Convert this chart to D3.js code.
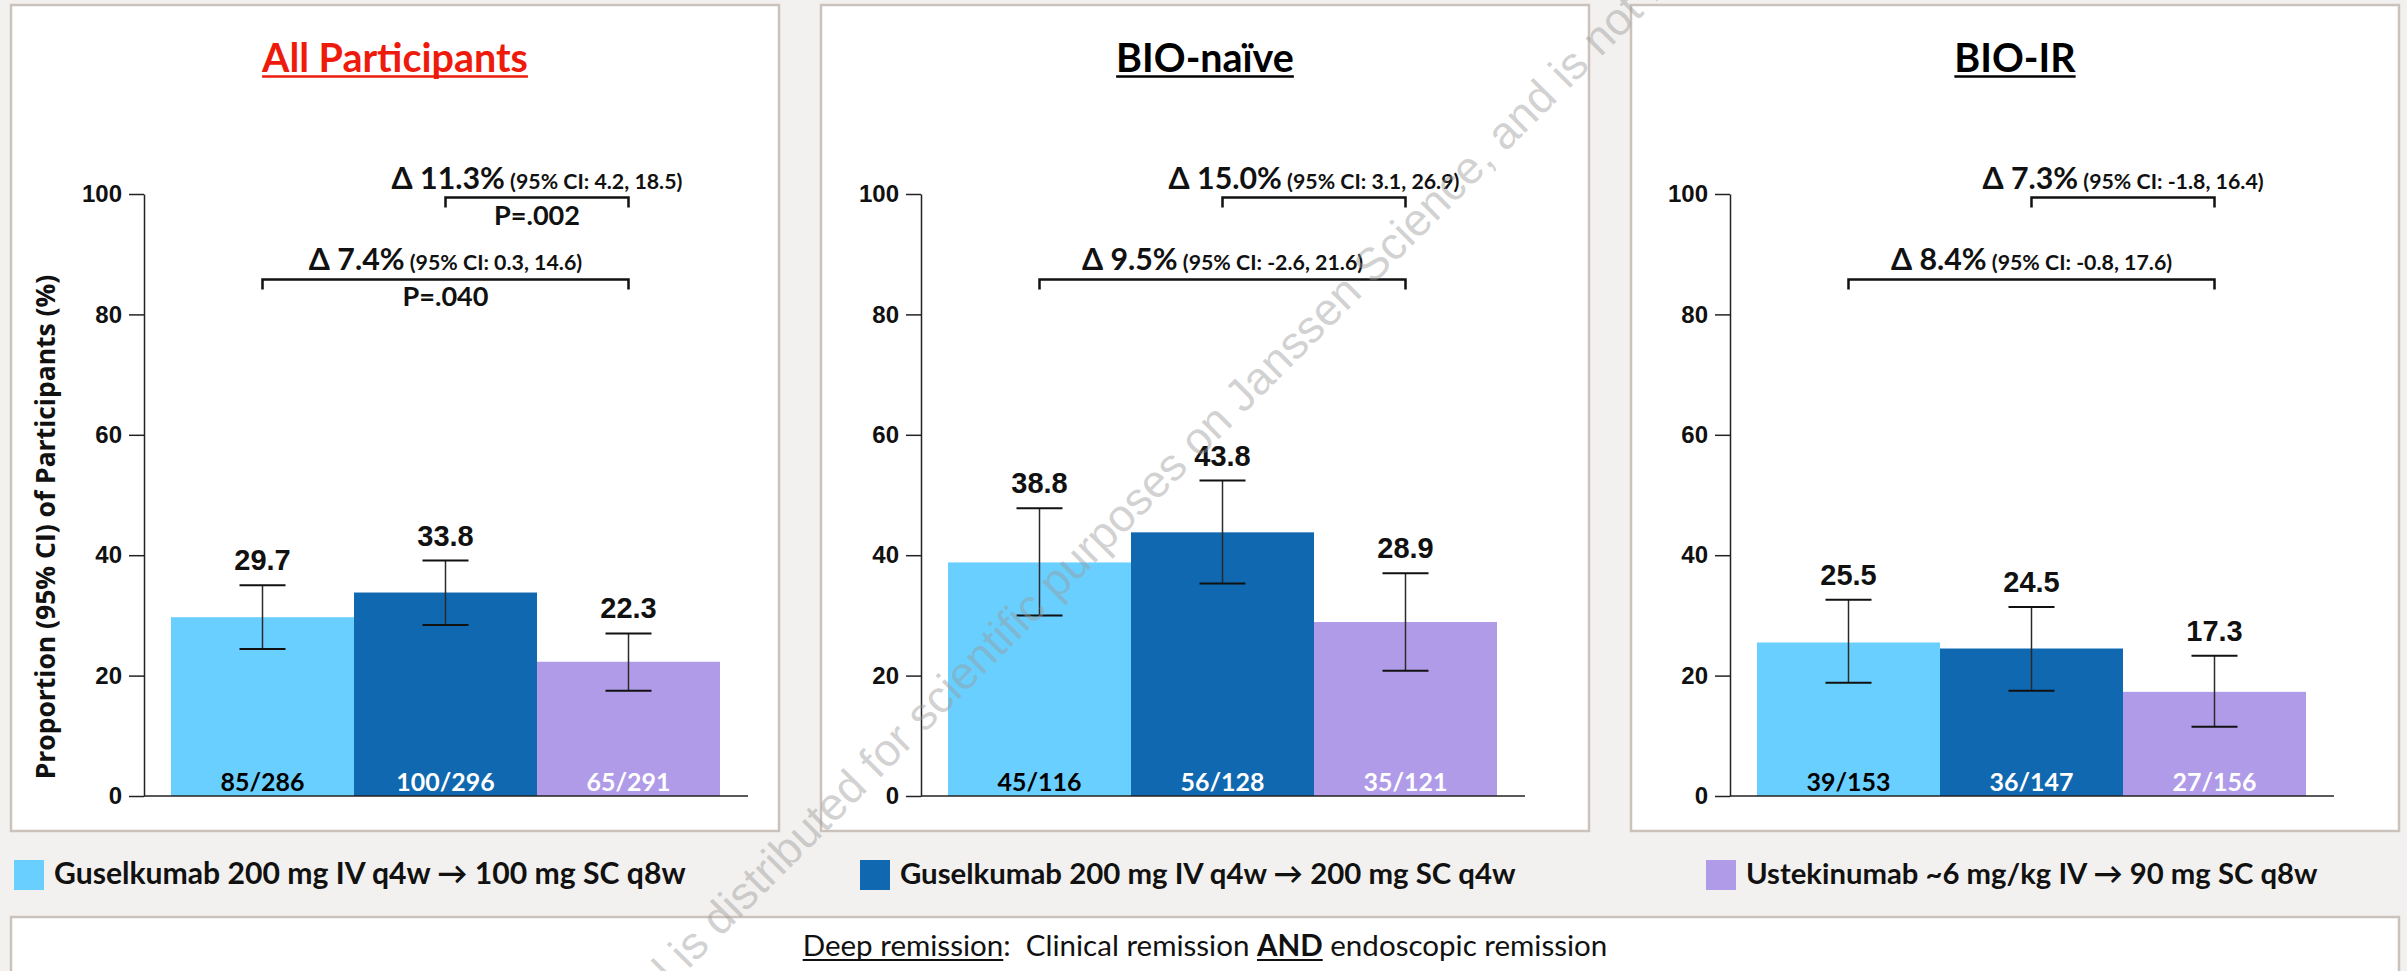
<!DOCTYPE html>
<html>
<head>
<meta charset="utf-8">
<script src="https://cdn.jsdelivr.net/npm/d3@7"></script>
<style>
  html, body { margin: 0; padding: 0; background: #f2f1ef; }
  svg { display: block; }
  text { white-space: pre; }
</style>
</head>
<body>
<svg id="chart" width="2407" height="971"></svg>
<script>
// ---- Data ----
const panelTitles = ["All Participants", "BIO-naïve", "BIO-IR"];
const treatments = [
  "Guselkumab 200 mg IV q4w \u2192 100 mg SC q8w",
  "Guselkumab 200 mg IV q4w \u2192 200 mg SC q4w",
  "Ustekinumab ~6 mg/kg IV \u2192 90 mg SC q8w"
];
const proportions = [[29.7, 33.8, 22.3], [38.8, 43.8, 28.9], [25.5, 24.5, 17.3]];
const ciLower     = [[24.4, 28.4, 17.5], [30.0, 35.3, 20.8], [18.8, 17.5, 11.5]];
const ciUpper     = [[35.0, 39.1, 27.0], [47.8, 52.4, 37.0], [32.6, 31.4, 23.3]];
const responders  = [["85/286", "100/296", "65/291"], ["45/116", "56/128", "35/121"], ["39/153", "36/147", "27/156"]];
const comparisonPairs = [[0, 2], [1, 2]];
const deltaValues = [["7.4%", "11.3%"], ["9.5%", "15.0%"], ["8.4%", "7.3%"]];
const deltaCIs    = [["0.3, 14.6", "4.2, 18.5"], ["-2.6, 21.6", "3.1, 26.9"], ["-0.8, 17.6", "-1.8, 16.4"]];
const pValues     = [["P=.040", "P=.002"], ["", ""], ["", ""]];
const yTicks = [0, 20, 40, 60, 80, 100];
const yAxisTitle = "Proportion (95% CI) of Participants (%)";
const footnoteParts = [
  { text: "Deep remission", weight: 400, underline: true },
  { text: ":  Clinical remission ", weight: 400, underline: false },
  { text: "AND", weight: 700, underline: true },
  { text: " endoscopic remission", weight: 400, underline: false }
];
const watermarkText = "This material is distributed for scientific purposes on Janssen Science, and is not for promotional use";

// ---- Styles / layout ----
const barColors = ["#69cfff", "#1068b0", "#b09be9"];
const countColors = ["#000000", "#ffffff", "#ffffff"];
const titleColors = ["#ee1b0c", "#000000", "#000000"];
const CAL = "Lato, 'DejaVu Sans', sans-serif";
const ARIAL = "'Liberation Sans', Arial, sans-serif";

const W = 2407, H = 971;
const panelLeft = [11, 821, 1631], panelTop = 5, panelW = 768, panelH = 826;
const axisX = [144, 921, 1730];
const bracketLevels = [85.8, 99.4];
const legendX = [14, 860, 1706];
const legendWidths = [632, 616, 572];

const svg = d3.select("#chart");
svg.append("rect").attr("width", W).attr("height", H).attr("fill", "#f2f1ef");

const y = d3.scaleLinear().domain([0, 100]).range([796, 194]);

function rescale(node, k) {
  [node, ...node.querySelectorAll("tspan")].forEach(n => {
    const fs = n.getAttribute("font-size");
    if (fs) n.setAttribute("font-size", parseFloat(fs) * k);
  });
}
function fitAll(sel, refNode, target) {
  const k = target / refNode.getComputedTextLength();
  sel.each(function () { rescale(this, k); });
}

const titles = [], countLabels = [], bracketLabels = [], pLabels = [];

panelTitles.forEach((title, p) => {
  const g = svg.append("g");
  g.append("rect")
    .attr("x", panelLeft[p]).attr("y", panelTop)
    .attr("width", panelW).attr("height", panelH)
    .attr("fill", "#ffffff").attr("stroke", "#cbc3bb").attr("stroke-width", 2.5);

  titles.push(g.append("text")
    .attr("x", panelLeft[p] + panelW / 2).attr("y", 72)
    .attr("text-anchor", "middle")
    .attr("font-family", CAL).attr("font-weight", 700).attr("font-size", 40)
    .attr("fill", titleColors[p])
    .text(title).node());

  const x = d3.scaleBand().domain([0, 1, 2]).range([axisX[p] + 27, axisX[p] + 576]).padding(0);
  const bw = x.bandwidth();
  const idx = [0, 1, 2];

  g.selectAll("rect.bar").data(idx).enter().append("rect")
    .attr("class", "bar")
    .attr("x", i => x(i)).attr("width", bw)
    .attr("y", i => y(proportions[p][i]))
    .attr("height", i => y(0) - y(proportions[p][i]))
    .attr("fill", i => barColors[i]);

  g.selectAll("text.count").data(idx).enter().append("text")
    .attr("class", "count")
    .attr("x", i => x(i) + bw / 2).attr("y", 791)
    .attr("text-anchor", "middle")
    .attr("font-family", CAL).attr("font-weight", 700).attr("font-size", 28)
    .attr("fill", i => countColors[i])
    .text(i => responders[p][i])
    .each(function () { countLabels.push(this); });

  // error bars
  const eb = g.selectAll("g.err").data(idx).enter().append("g").attr("class", "err");
  eb.append("line")
    .attr("x1", i => x(i) + bw / 2).attr("x2", i => x(i) + bw / 2)
    .attr("y1", i => y(ciLower[p][i])).attr("y2", i => y(ciUpper[p][i]))
    .attr("stroke", "#2a2a2a").attr("stroke-width", 1.5);
  [ciLower, ciUpper].forEach(arr => {
    eb.append("line")
      .attr("x1", i => x(i) + bw / 2 - 23).attr("x2", i => x(i) + bw / 2 + 23)
      .attr("y1", i => y(arr[p][i])).attr("y2", i => y(arr[p][i]))
      .attr("stroke", "#111").attr("stroke-width", 2);
  });

  g.selectAll("text.val").data(idx).enter().append("text")
    .attr("class", "val")
    .attr("x", i => x(i) + bw / 2).attr("y", i => y(ciUpper[p][i]) - 15)
    .attr("text-anchor", "middle")
    .attr("font-family", ARIAL).attr("font-weight", 700).attr("font-size", 29)
    .attr("fill", "#111")
    .text(i => proportions[p][i].toFixed(1));

  // axis
  const ax = g.append("g").attr("transform", `translate(${axisX[p]},0)`)
    .call(d3.axisLeft(y).tickValues(yTicks).tickSize(15).tickSizeOuter(0).tickPadding(7));
  ax.select(".domain").attr("stroke", "#222").attr("stroke-width", 1.5);
  ax.selectAll(".tick line").attr("stroke", "#222").attr("stroke-width", 1.5);
  ax.selectAll(".tick text")
    .attr("font-family", ARIAL).attr("font-weight", 700).attr("font-size", 24).attr("fill", "#111");
  g.append("line")
    .attr("x1", axisX[p]).attr("x2", axisX[p] + 604)
    .attr("y1", y(0)).attr("y2", y(0))
    .attr("stroke", "#222").attr("stroke-width", 1.5);

  // comparison brackets
  comparisonPairs.forEach((pair, c) => {
    const x1 = x(pair[0]) + bw / 2, x2 = x(pair[1]) + bw / 2;
    const yy = y(bracketLevels[c]);
    g.append("path")
      .attr("d", `M${x1},${yy + 10}V${yy}H${x2}V${yy + 10}`)
      .attr("fill", "none").attr("stroke", "#111").attr("stroke-width", 2.5);
    const t = g.append("text")
      .attr("x", (x1 + x2) / 2).attr("y", yy - 9)
      .attr("text-anchor", "middle")
      .attr("font-family", CAL).attr("font-weight", 700).attr("fill", "#111");
    t.append("tspan").attr("font-size", 27).text("\u0394 " + deltaValues[p][c]);
    t.append("tspan").attr("font-size", 19).text(" (95% CI: " + deltaCIs[p][c] + ")");
    bracketLabels.push(t.node());
    if (pValues[p][c]) {
      pLabels.push(g.append("text")
        .attr("x", (x1 + x2) / 2).attr("y", yy + 27)
        .attr("text-anchor", "middle")
        .attr("font-family", CAL).attr("font-weight", 700).attr("font-size", 27)
        .attr("fill", "#111")
        .text(pValues[p][c]).node());
    }
  });
});

// y-axis title (first panel)
const yTitle = svg.append("text")
  .attr("transform", "translate(55,527) rotate(-90)")
  .attr("text-anchor", "middle")
  .attr("font-family", "'Open Sans', 'DejaVu Sans', sans-serif").attr("font-weight", 700).attr("font-size", 24)
  .attr("fill", "#111")
  .text(yAxisTitle);

// legend
const legendTexts = [];
treatments.forEach((name, i) => {
  svg.append("rect").attr("x", legendX[i]).attr("y", 860).attr("width", 30).attr("height", 30).attr("fill", barColors[i]);
  legendTexts.push(svg.append("text")
    .attr("x", legendX[i] + 40).attr("y", 884)
    .attr("font-family", CAL).attr("font-weight", 700).attr("font-size", 29)
    .attr("fill", "#111").text(name).node());
});

// footnote box
svg.append("rect").attr("x", 11).attr("y", 917).attr("width", 2388).attr("height", 100)
  .attr("fill", "#ffffff").attr("stroke", "#cbc3bb").attr("stroke-width", 2.5);
const foot = svg.append("text")
  .attr("x", 1205).attr("y", 956).attr("text-anchor", "middle")
  .attr("font-family", CAL).attr("font-size", 27).attr("fill", "#111");
footnoteParts.forEach(part => {
  foot.append("tspan").attr("font-weight", part.weight).attr("font-size", 27).text(part.text);
});

// ---- size text to the layout ----
fitAll(d3.selectAll(titles), titles[0], 266);
fitAll(d3.selectAll(countLabels), countLabels[0], 84);
fitAll(d3.selectAll(bracketLabels), bracketLabels[1], 291);
fitAll(d3.selectAll(pLabels), pLabels[0], 86);
fitAll(yTitle, yTitle.node(), 505);
legendTexts.forEach((node, i) => fitAll(d3.select(node), node, legendWidths[i]));
fitAll(foot, foot.node(), 805);

// underlines
function underline(textNode, from, to, dy, width, color) {
  const a = textNode.getStartPositionOfChar(from);
  const b = textNode.getEndPositionOfChar(to - 1);
  svg.append("line")
    .attr("x1", a.x).attr("x2", b.x).attr("y1", a.y + dy).attr("y2", a.y + dy)
    .attr("stroke", color).attr("stroke-width", width);
}
titles.forEach((node, p) => underline(node, 0, panelTitles[p].length, 4.5, 2.5, titleColors[p]));
let pos = 0;
footnoteParts.forEach(part => {
  if (part.underline) underline(foot.node(), pos, pos + part.text.length, 4, 1.8, "#111");
  pos += part.text.length;
});

// diagonal watermark
const wm = svg.append("g").attr("transform", "translate(688,970) rotate(-45)");
const wmText = wm.append("text")
  .attr("font-family", ARIAL).attr("font-size", 45.6)
  .attr("fill", "#9a9a9a").attr("fill-opacity", 0.45)
  .text(watermarkText);
const prefixLen = wmText.node().getSubStringLength(0, "This material ".length);
wmText.attr("x", -prefixLen);
</script>
</body>
</html>
